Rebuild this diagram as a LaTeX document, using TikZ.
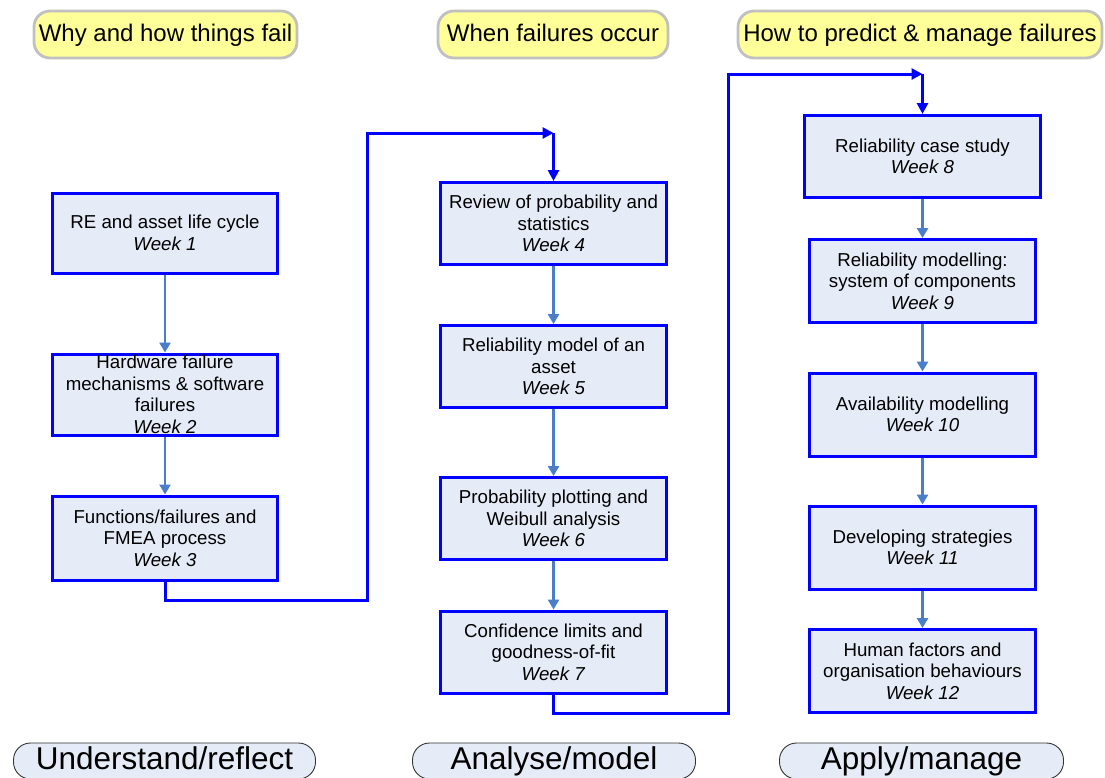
\documentclass[tikz,border=0pt]{standalone}
\usepackage{fontspec}
\setmainfont{Liberation Sans}
\usetikzlibrary{arrows.meta}
\definecolor{boxfill}{HTML}{E6ECF7}
\definecolor{boxline}{HTML}{0000FF}
\definecolor{steel}{HTML}{4A7EC8}
\definecolor{hdrfill}{HTML}{FFFF99}
\definecolor{hdrline}{HTML}{C0C0C0}
\begin{document}
\begin{tikzpicture}[x=1pt,y=-1pt,
  weekbox/.style={draw=boxline, line width=3pt, fill=boxfill, inner sep=0pt,
    align=center, font=\fontsize{18.7}{21.5}\selectfont,
    minimum height=82pt},
  colA/.style={weekbox, minimum width=225pt},
  colB/.style={weekbox, minimum width=226pt},
  colC/.style={weekbox, minimum width=226pt},
  hdr/.style={draw=hdrline, line width=2.8pt, fill=hdrfill, rounded corners=16pt,
    inner sep=0pt, minimum height=47pt, text height=18pt, text depth=4pt,
    font=\fontsize{24}{28}\selectfont},
  foot/.style={draw=black!80, line width=0.9pt, fill=boxfill, rounded corners=17pt,
    inner sep=0pt, minimum height=36pt, text height=23pt, text depth=6pt,
    font=\fontsize{31.5}{36}\selectfont},
  flow/.style={draw=steel, line width=2.8pt, -{Triangle[width=11pt,length=10pt]}},
  link/.style={draw=boxline, line width=3pt},
  linkarrow/.style={link, -{Triangle[width=11pt,length=11pt]}}
]
\useasboundingbox (0,0) rectangle (1105,777);

% headers
\node[hdr, minimum width=263pt] (h1) at (165.5,34.5) {Why and how things fail};
\node[hdr, minimum width=230pt] (h2) at (553,34.5) {When failures occur};
\node[hdr, minimum width=364pt] (h3) at (920,34.5) {How to predict \& manage failures};

% column A
\node[colA, minimum height=80pt] (a1) at (165,233) {RE and asset life cycle\\\textit{Week 1}};
\node[colA, minimum height=81pt] (a2) at (165,394.5) {Hardware failure\\mechanisms \& software\\failures\\\textit{Week 2}};
\node[colA, minimum height=84pt] (a3) at (165,538) {Functions/failures and\\FMEA process\\\textit{Week 3}};

% column B
\node[colB] (b4) at (553.5,223.5) {Review of probability and\\statistics\\\textit{Week 4}};
\node[colB] (b5) at (553.5,366.5) {Reliability model of an\\asset\\\textit{Week 5}};
\node[colB] (b6) at (553.5,518.5) {Probability plotting and\\Weibull analysis\\\textit{Week 6}};
\node[colB] (b7) at (553.5,652) {Confidence limits and\\goodness-of-fit\\\textit{Week 7}};

% column C
\node[colC, minimum width=236pt] (c8) at (922.5,156.5) {Reliability case study\\\textit{Week 8}};
\node[colC, minimum height=83pt] (c9) at (922.5,281) {Reliability modelling:\\system of components\\\textit{Week 9}};
\node[colC, minimum height=83pt] (c10) at (922.5,414.5) {Availability modelling\\\textit{Week 10}};
\node[colC, minimum height=83pt] (c11) at (922.5,547.5) {Developing strategies\\\textit{Week 11}};
\node[colC, minimum height=83pt] (c12) at (922.5,671) {Human factors and\\organisation behaviours\\\textit{Week 12}};

% footers
\node[foot, minimum width=302pt] (f1) at (164.5,761) {Understand/reflect};
\node[foot, minimum width=283pt] (f2) at (554,761) {Analyse/model};
\node[foot, minimum width=284pt] (f3) at (921.5,761) {Apply/manage};

% flows within columns
\draw[flow] (a1) -- (a2);
\draw[flow] (a2) -- (a3);
\draw[flow] (b4) -- (b5);
\draw[flow] (b5) -- (b6);
\draw[flow] (b6) -- (b7);
\draw[flow] (c8) -- (c9);
\draw[flow] (c9) -- (c10);
\draw[flow] (c10) -- (c11);
\draw[flow] (c11) -- (c12);

% links between columns
\coordinate (k1) at (367,600);
\coordinate (k2) at (553.5,133);
\draw[linkarrow] (a3.south) |- (k1) |- (k2);
\draw[linkarrow] (k2) -- (b4.north);

\coordinate (k3) at (728,713);
\coordinate (k4) at (922.5,74);
\draw[linkarrow] (b7.south) |- (k3) |- (k4);
\draw[linkarrow] (k4) -- (c8.north);
\end{tikzpicture}
\end{document}
